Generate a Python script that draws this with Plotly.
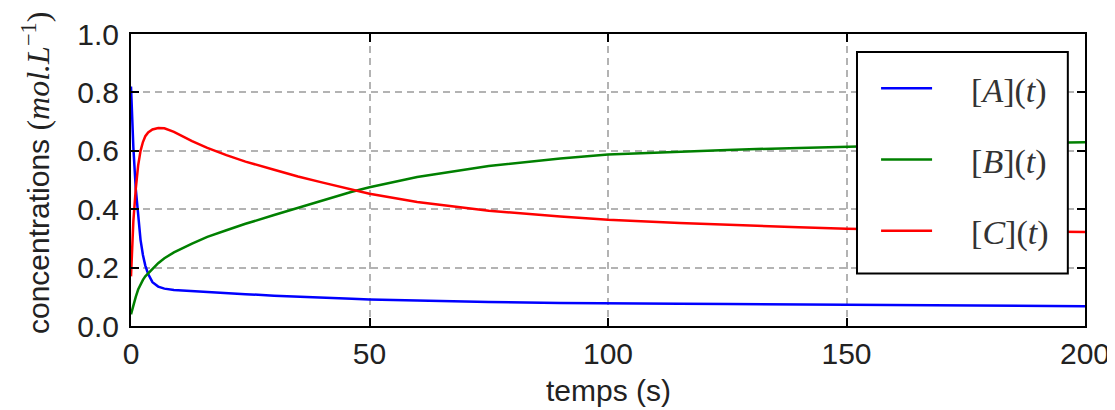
import plotly.graph_objects as go

# ---- data ----
t = [0, 0.5, 1, 1.5, 2, 2.5, 3, 3.6, 4.5, 5.7, 7, 9, 12.8, 16, 20, 24, 30, 35, 40,
     46.3, 50, 60, 75, 90, 100, 115, 125, 140, 150, 165, 180, 200]

conc_A = [0.82, 0.61, 0.47, 0.37, 0.295, 0.243, 0.207, 0.178, 0.150, 0.135, 0.128,
          0.123, 0.119, 0.116, 0.113, 0.109, 0.104, 0.100, 0.097, 0.093, 0.091, 0.087,
          0.082, 0.079, 0.077, 0.076, 0.075, 0.074, 0.073, 0.071, 0.070, 0.068]

conc_B = [0.04, 0.075, 0.10, 0.125, 0.143, 0.158, 0.170, 0.180, 0.197, 0.215, 0.232,
          0.252, 0.282, 0.305, 0.328, 0.350, 0.380, 0.405, 0.430, 0.460, 0.475, 0.510,
          0.548, 0.574, 0.587, 0.597, 0.603, 0.610, 0.615, 0.620, 0.625, 0.629]

conc_C = [0.17, 0.36, 0.47, 0.55, 0.60, 0.63, 0.65, 0.663, 0.673, 0.678, 0.677,
          0.665, 0.633, 0.610, 0.585, 0.563, 0.535, 0.512, 0.492, 0.467, 0.453, 0.425,
          0.395, 0.375, 0.364, 0.353, 0.346, 0.338, 0.333, 0.328, 0.325, 0.322]

series_names = ["[<i>A</i>](<i>t</i>)", "[<i>B</i>](<i>t</i>)", "[<i>C</i>](<i>t</i>)"]
series_colors = ["#0000ff", "#008000", "#ff0000"]

x_ticks = [0, 50, 100, 150, 200]
x_tick_labels = ["0", "50", "100", "150", "200"]
y_ticks = [0.0, 0.2, 0.4, 0.6, 0.8, 1.0]
y_tick_labels = ["0.0", "0.2", "0.4", "0.6", "0.8", "1.0"]

x_title = "temps (s)"
y_title = ("concentrations <span style='font-family:Liberation Serif;font-size:32px'>"
           "(<i>mol.L</i><sup>\u22121</sup>)</span>")

NBSP = "\u00a0"

fig = go.Figure()
for name, vals, color in zip(series_names, [conc_A, conc_B, conc_C], series_colors):
    fig.add_trace(go.Scatter(
        x=t, y=vals, mode="lines", name=NBSP * 4 + name,
        legendgroup=name,
        line=dict(color=color, width=2.5),
    ))

axis_common = dict(
    showline=True, linecolor="black", linewidth=2, mirror="ticks",
    ticks="inside", ticklen=8, tickwidth=1.5, tickcolor="black",
    showgrid=True, gridcolor="#b3b3b3", gridwidth=1.5, griddash="7px,5px",
    zeroline=False, automargin=False,
    tickfont=dict(family="Liberation Sans", size=30, color="#222222"),
)

fig.update_xaxes(
    range=[0, 200], tickvals=x_ticks, ticktext=x_tick_labels,
    ticklabelstandoff=0,
    **axis_common,
)
fig.update_yaxes(
    range=[0, 1], tickvals=y_ticks, ticktext=y_tick_labels,
    ticklabelstandoff=4,
    **axis_common,
)

title_font = dict(family="Liberation Sans", size=30, color="#222222")

# the page has an 8px body margin, so the figure is placed to fit inside it
fig.update_layout(
    width=1107, height=402,
    margin=dict(l=123, r=30, t=26, b=84, autoexpand=False),
    plot_bgcolor="white", paper_bgcolor="white",
    showlegend=True,
    legend=dict(
        x=0.781, y=0.912, xanchor="left", yanchor="top",
        bgcolor="rgba(0,0,0,0)", borderwidth=0,
        font=dict(family="Liberation Serif", size=34, color="#333333"),
        itemwidth=51, tracegroupgap=24,
    ),
    shapes=[dict(
        type="rect", xref="paper", yref="paper",
        x0=0.761, x1=0.982, y0=0.180, y1=0.938,
        line=dict(color="black", width=2), fillcolor="white", layer="above",
    )],
    annotations=[
        dict(
            text=y_title, textangle=-90, showarrow=False,
            xref="paper", yref="paper", x=0, y=0.5,
            xanchor="right", yanchor="middle", xshift=-73, yshift=7,
            font=title_font,
        ),
        dict(
            text=x_title, showarrow=False,
            xref="paper", yref="paper", x=0.5, y=0,
            xanchor="center", yanchor="middle", yshift=-64,
            font=title_font,
        ),
    ],
)

fig.write_html("out.html")
